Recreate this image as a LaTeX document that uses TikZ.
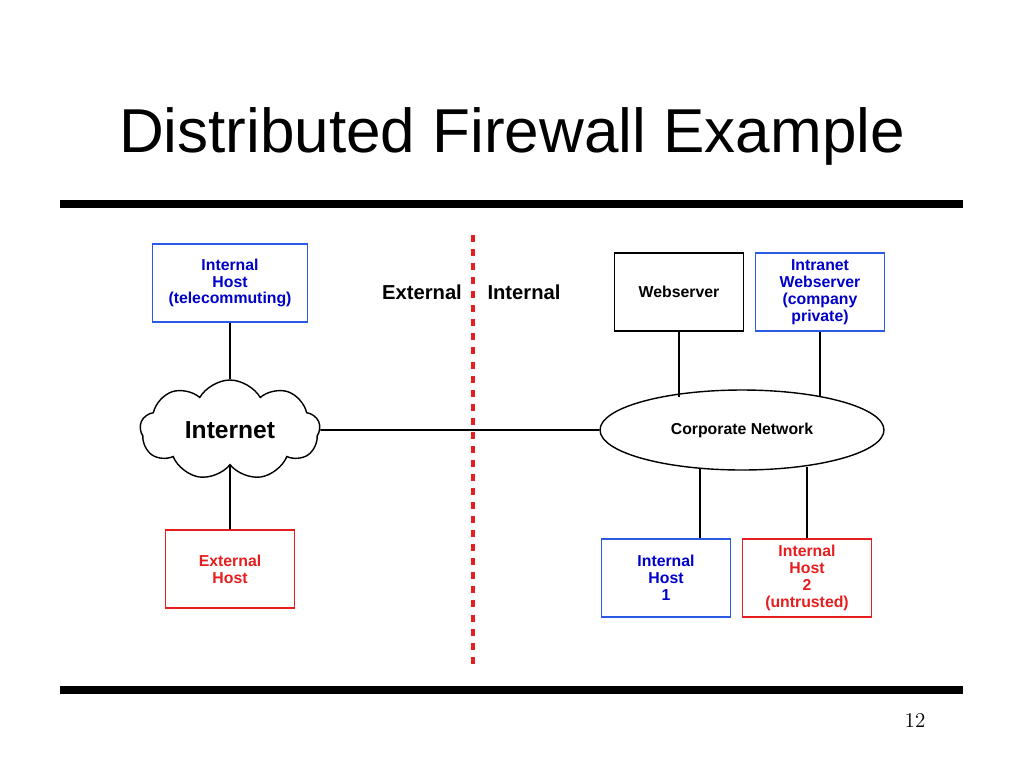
\documentclass[tikz,border=0pt]{standalone}
\usepackage{fontspec}
\setmainfont{Liberation Sans}
\usetikzlibrary{shapes.geometric,shapes.symbols}
\definecolor{hostBlue}{RGB}{40,90,230}
\definecolor{textBlue}{RGB}{0,0,200}
\definecolor{hostRed}{RGB}{230,30,30}
\tikzset{
  box/.style={draw, line width=0.8pt, align=center, font=\bfseries\fontsize{9}{9.6}\selectfont,
    minimum width=2.58cm, minimum height=1.56cm, inner sep=1pt},
  bluebox/.style={box, draw=hostBlue, text=textBlue},
  redbox/.style={box, draw=hostRed, text=hostRed},
  link/.style={line width=0.9pt}
}
\begin{document}
\begin{tikzpicture}[x=0.02cm, y=-0.02cm]
  \useasboundingbox (0,0) rectangle (1024,768);
  % title and rules
  \node (title) at (512,136) {\fontsize{35.3}{40}\selectfont Distributed Firewall Example};
  \fill (60,200) rectangle (963,208);
  \fill (60,686) rectangle (963,694);
  \node (page) at (915,720) {\fontfamily{lmr}\selectfont\fontsize{12}{14}\selectfont 12};
  % boundary
  \draw[hostRed, line width=2.5pt, dash pattern=on 4pt off 4pt] (473,235) -- (473,665);
  \node[font=\bfseries\fontsize{11.5}{13}\selectfont] (ext) at (422,292) {External};
  \node[font=\bfseries\fontsize{11.5}{13}\selectfont] (int) at (524,292) {Internal};
  % nodes
  \node[bluebox, minimum width=3.1cm] (tele) at (230,283) {Internal\\Host\\(telecommuting)};
  \node[draw, line width=0.8pt, cloud, cloud puffs=9, cloud puff arc=120, aspect=2.2,
        minimum width=3.6cm, minimum height=2.0cm, font=\bfseries\fontsize{14}{16}\selectfont] (net) at (230,430) {Internet};
  \node[redbox] (exthost) at (230,569) {External\\Host};
  \node[box] (web) at (679,292) {Webserver};
  \node[bluebox] (intra) at (820,292) {Intranet\\Webserver\\(company\\private)};
  \node[draw, ellipse, line width=0.8pt, minimum width=5.68cm, minimum height=1.6cm,
        font=\bfseries\fontsize{9}{11}\selectfont] (corp) at (742,430) {Corporate Network};
  \node[bluebox] (h1) at (666,578) {Internal\\Host\\1};
  \node[redbox] (h2) at (807,578) {Internal\\Host\\2\\(untrusted)};
  % connectors
  \draw[link] (tele) -- (net);
  \draw[link] (net) -- (exthost);
  \draw[link] (net) -- (corp);
  \draw[link] (web.south -| 679,0) -- (679,397);
  \draw[link] (intra.south) -- (820,397);
  \draw[link] (700,468) -- (h1.north -| 700,0);
  \draw[link] (h2.north) -- (807,467);
\end{tikzpicture}
\end{document}
